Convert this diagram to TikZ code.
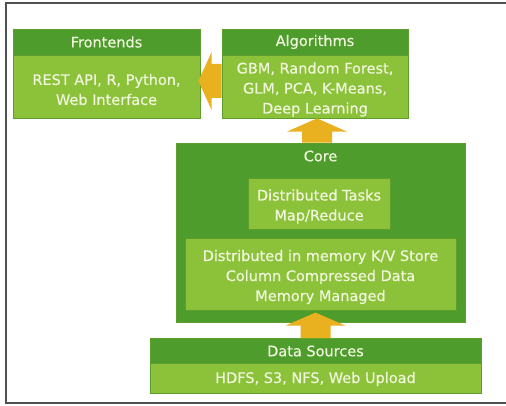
\documentclass[tikz,border=0pt]{standalone}
\usepackage{fontspec}
\setmainfont{DejaVu Sans}
\newfontfamily\boxfont[FakeBold=0.4]{DejaVu Sans}
\usetikzlibrary{calc}
\definecolor{hdgreen}{HTML}{4D9C2C}
\definecolor{bdgreen}{HTML}{8CC23A}
\definecolor{edgegreen}{HTML}{5E9E2C}
\definecolor{txtlight}{HTML}{F0F6DC}
\definecolor{arrowgold}{HTML}{E9B01F}
\definecolor{framegray}{HTML}{505050}
\tikzset{
  header/.style={draw=edgegreen, fill=hdgreen, line width=0.8pt, inner sep=0pt,
    text=txtlight, font=\boxfont\fontsize{14.5}{18}\selectfont},
  body/.style={draw=edgegreen, fill=bdgreen, line width=0.8pt, inner sep=0pt},
  bodytext/.style={text=txtlight, align=center, inner sep=0pt,
    font=\boxfont\fontsize{14.5}{20}\selectfont},
  fatarrow/.style={fill=arrowgold, draw=none},
}
\begin{document}
\begin{tikzpicture}[x=1pt,y=-1pt]
\useasboundingbox (0,0) rectangle (506,406);
\fill[white] (0,0) rectangle (506,406);
\draw[framegray, line width=1.2pt] (520,3) -- (6,3) -- (6,403) -- (520,403);

% Frontends
\node[body, minimum width=187, minimum height=63] (frontbody) at (106.5,86.5) {};
\node[bodytext] (fronttxt) at (106.5,89.5) {REST API, R, Python,\\Web Interface};
\node[header, minimum width=187, minimum height=26] (front) at (106.5,42) {Frontends};

% Algorithms
\node[body, minimum width=186, minimum height=63] (algbody) at (315,86.5) {};
\node[bodytext] (algtxt) at (315,89.5)
  {GBM, Random Forest,\\GLM, PCA, K-Means,\\Deep Learning};
\node[header, minimum width=186, minimum height=26] (alg) at (315,42) {Algorithms};

% Core with its two inner blocks
\node[header, minimum width=289, minimum height=179] (core) at (320.5,232.5) {};
\node[bodytext] (coretxt) at (320.5,156) {Core};
\node[body, minimum width=142, minimum height=51] (tasks) at (319,204) {};
\node[bodytext] (taskstxt) at (319,206.5) {Distributed Tasks\\Map/Reduce};
\node[body, minimum width=271, minimum height=72] (store) at (320.5,274.5) {};
\node[bodytext] (storetxt) at (320.5,277)
  {Distributed in memory K/V Store\\Column Compressed Data\\Memory Managed};

% Data sources
\node[header, minimum width=331, minimum height=25] (data) at (315.5,351) {Data Sources};
\node[body, minimum width=331, minimum height=30] (databody) at (315.5,378.5) {};
\node[bodytext] (datatxt) at (315.5,379) {HDFS, S3, NFS, Web Upload};

% Block arrows
\coordinate (ls) at ($(algbody.west)+(0,-5.5)$);
\coordinate (lt) at ($(frontbody.east |- ls)+(-2,0)$);
\fill[fatarrow] ($(ls)+(0,-17)$) -- ++(-10,0) -- ++(0,-12) -- (lt)
  -- ($(ls)+(-10,29)$) -- ++(0,-12) -- ($(ls)+(0,17)$) -- cycle;

\coordinate (us) at ($(core.north)+(-3.5,0)$);
\coordinate (ut) at (us |- algbody.south);
\fill[fatarrow] ($(us)+(-15,0)$) -- ++(0,-11) -- ++(-15,0) -- (ut)
  -- ($(us)+(30,-11)$) -- ++(-15,0) -- ($(us)+(15,0)$) -- cycle;

\coordinate (bs) at (data.north);
\coordinate (bt) at ($(bs)+(0,-25.5)$);
\fill[fatarrow] ($(bs)+(-15,0)$) -- ++(0,-12.5) -- ++(-15,0) -- (bt)
  -- ($(bs)+(30,-12.5)$) -- ++(-15,0) -- ($(bs)+(15,0)$) -- cycle;
\end{tikzpicture}
\end{document}
